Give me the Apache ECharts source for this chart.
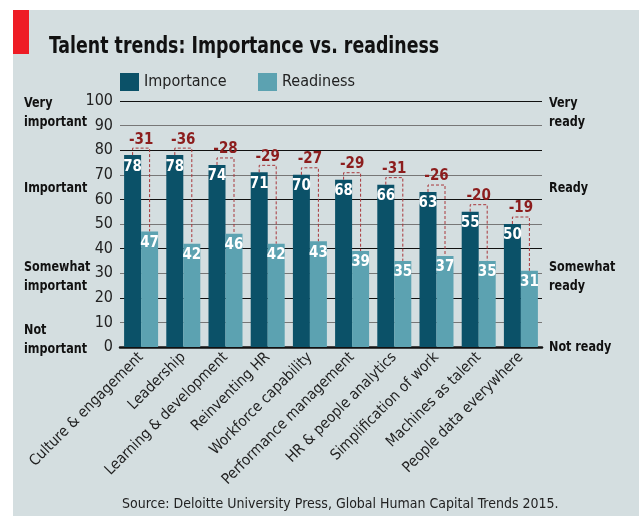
<!DOCTYPE html>
<html>
<head>
<meta charset="utf-8">
<script src="https://cdn.jsdelivr.net/npm/echarts@6/dist/echarts.min.js"></script>
<style>
  html, body { margin: 0; padding: 0; background: #fff; }
  #chart { width: 639px; height: 516px; }
</style>
</head>
<body>
<div id="chart"></div>
<script>
// data
const categories = ['Culture & engagement', 'Leadership', 'Learning & development', 'Reinventing HR',
  'Workforce capability', 'Performance management', 'HR & people analytics',
  'Simplification of work', 'Machines as talent', 'People data everywhere'];
const importance = [78, 78, 74, 71, 70, 68, 66, 63, 55, 50];
const readiness = [47, 42, 46, 42, 43, 39, 35, 37, 35, 31];
const gaps = [-31, -36, -28, -29, -27, -29, -31, -26, -20, -19];
const yTicks = [0, 10, 20, 30, 40, 50, 60, 70, 80, 90, 100];

const FONT = '"DejaVu Sans Condensed", "DejaVu Sans", sans-serif';
const DARK = '#0b5168';
const LIGHT = '#5ca2b1';
const RED = '#8c1d1d';

// condensed bold side labels (x, y = top-left)
function sideLabel(text, x, y) {
  return {
    type: 'text', x: x, y: y, scaleX: 0.89,
    style: { text: text, x: 0, y: 0, font: 'bold 14px ' + FONT, fill: '#111', lineHeight: 19 }
  };
}

const legendBase = {
  top: 73,
  padding: 0,
  icon: 'rect',
  itemWidth: 19,
  itemHeight: 18,
  textStyle: { fontFamily: FONT, fontSize: 16, color: '#222' }
};

const chart = echarts.init(document.getElementById('chart'));

chart.setOption({
  backgroundColor: '#fff',
  animation: false,
  textStyle: { fontFamily: FONT },
  legend: [
    Object.assign({ data: ['Importance'], left: 120 }, legendBase),
    Object.assign({ data: ['Readiness'], left: 258 }, legendBase)
  ],
  grid: { left: 120, right: 97, top: 101, bottom: 169 },
  xAxis: {
    type: 'category',
    data: categories,
    axisTick: { show: false },
    axisLine: { lineStyle: { color: '#111', width: 2.5 } },
    axisLabel: {
      interval: 0,
      rotate: 45,
      margin: 8,
      fontFamily: FONT,
      fontSize: 15,
      color: '#222'
    }
  },
  yAxis: {
    type: 'value',
    min: 0,
    max: 100,
    interval: 10,
    axisLine: { show: false },
    axisTick: { show: false },
    axisLabel: {
      margin: 7,
      fontFamily: FONT,
      fontSize: 16,
      color: '#222',
      formatter: v => yTicks.includes(v) ? String(v) : ''
    },
    splitLine: { lineStyle: { color: ['#111', '#777'], width: 1.2 } }
  },
  graphic: [
    { type: 'rect', shape: { x: 13, y: 10, width: 626, height: 506 }, style: { fill: '#d4dee0' }, z: -10 },
    { type: 'rect', shape: { x: 13, y: 10, width: 16, height: 44 }, style: { fill: '#ee1c25' }, z: -5 },
    {
      type: 'text', x: 49, y: 36, scaleX: 0.84,
      style: { text: 'Talent trends: Importance vs. readiness', x: 0, y: 0, font: 'bold 23px ' + FONT, fill: '#111' }
    },
    sideLabel('Very\nimportant', 24, 94),
    sideLabel('Important', 24, 179),
    sideLabel('Somewhat\nimportant', 24, 258),
    sideLabel('Not\nimportant', 24, 321),
    sideLabel('Very\nready', 549, 94),
    sideLabel('Ready', 549, 179),
    sideLabel('Somewhat\nready', 549, 258),
    sideLabel('Not ready', 549, 338),
    {
      type: 'text', x: 122, y: 497,
      style: { text: 'Source: Deloitte University Press, Global Human Capital Trends 2015.', x: 0, y: 0, font: '14px ' + FONT, fill: '#222' }
    }
  ],
  series: [
    {
      name: 'Importance',
      type: 'bar',
      data: importance,
      barWidth: 17,
      barGap: '0%',
      itemStyle: { color: DARK },
      label: { show: true, position: 'insideTop', distance: 4, color: '#fff', fontFamily: FONT, fontSize: 15, fontWeight: 'bold' }
    },
    {
      name: 'Readiness',
      type: 'bar',
      data: readiness,
      barWidth: 17,
      itemStyle: { color: LIGHT },
      label: { show: true, position: 'insideTop', distance: 4, color: '#fff', fontFamily: FONT, fontSize: 15, fontWeight: 'bold' }
    },
    {
      name: 'gap',
      type: 'custom',
      data: categories.map((c, i) => [i, importance[i], readiness[i], gaps[i]]),
      z: 5,
      renderItem: function (params, api) {
        const i = api.value(0);
        const top = api.coord([i, api.value(1)]);
        const bottomY = api.coord([i, api.value(2)])[1];
        const half = 8.5;
        const x1 = top[0] - half;
        const x2 = top[0] + half;
        const yb = top[1] - 7;
        return {
          type: 'group',
          children: [
            {
              type: 'polyline',
              shape: { points: [[x1, top[1]], [x1, yb], [x2, yb], [x2, bottomY]] },
              style: { stroke: '#a8363a', lineWidth: 1, lineDash: [3, 2], fill: null }
            },
            {
              type: 'text',
              style: {
                text: String(api.value(3)),
                x: top[0],
                y: yb - 1,
                align: 'center',
                verticalAlign: 'bottom',
                fill: RED,
                font: 'bold 15px ' + FONT
              }
            }
          ]
        };
      }
    }
  ]
});
</script>
</body>
</html>
